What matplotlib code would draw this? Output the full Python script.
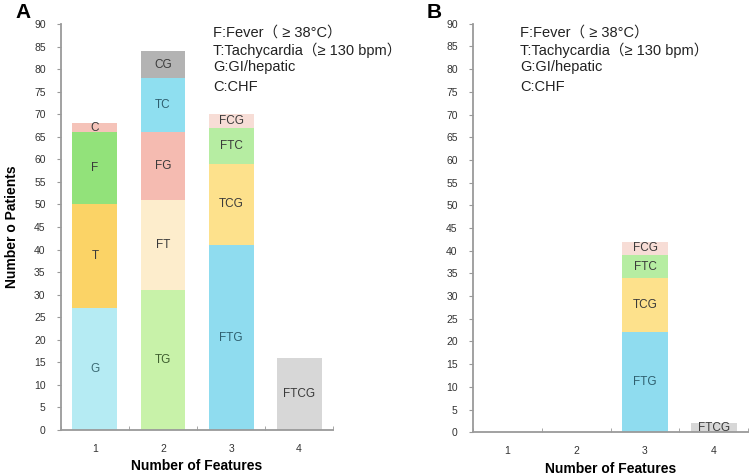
import matplotlib.pyplot as plt

plt.rcParams['font.family'] = ['Liberation Sans', 'Noto Sans CJK SC', 'DejaVu Sans']

# panel A: segments per bar (bottom to top)
cats = [1, 2, 3, 4]
a_labels = [['G', 'T', 'F', 'C'],
            ['TG', 'FT', 'FG', 'TC', 'CG'],
            ['FTG', 'TCG', 'FTC', 'FCG'],
            ['FTCG']]
a_values = [[27, 23, 16, 2],
            [31, 20, 15, 12, 6],
            [41, 18, 8, 3],
            [16]]

# panel B: only 3 and 4 features
b_labels = [[], [], ['FTG', 'TCG', 'FTC', 'FCG'], ['FTCG']]
b_values = [[], [], [22, 12, 5, 3], [2]]

seg_colors = {
    'G': '#b5ebf3', 'T': '#fbd366', 'F': '#92e27a', 'C': '#f5c3b9',
    'TG': '#c8f2a9', 'FT': '#fdedcc', 'FG': '#f5bbb1', 'TC': '#8fdff0', 'CG': '#b3b3b3',
    'FTG': '#8fdcef', 'TCG': '#fde18c', 'FTC': '#b6eda2', 'FCG': '#f7ddd6',
    'FTCG': '#d7d7d7',
}
text_colors = {'G': '#3b6b74', 'TG': '#3f5f2f', 'FTG': '#2f5f6f', 'TC': '#2f5f6f'}

legend_lines = ['F:Fever（ ≥ 38°C）', 'T:Tachycardia（≥ 130 bpm）',
                'G:GI/hepatic', 'C:CHF']
legend_y = [33, 50, 67, 87]

fig = plt.figure(figsize=(7.52, 4.76), dpi=100)
axA = fig.add_axes([0.081, 0.0966, 0.362, 0.853])
axB = fig.add_axes([0.629, 0.092, 0.366, 0.858])


def draw_panel(ax, labels, values):
    for x, labs, vals in zip(cats, labels, values):
        bottom = 0
        for lab, v in zip(labs, vals):
            ax.bar(x, v, bottom=bottom, width=0.66, color=seg_colors[lab], linewidth=0)
            ypos = bottom + v / 2
            if lab == 'FTCG' and v < 5:
                ypos = 0.9
            ax.text(x, ypos, lab, ha='center', va='center', fontsize=8.5,
                    color=text_colors.get(lab, '#3a3a3a'))
            bottom += v
    ax.set_xlim(0.5, 4.5)
    ax.set_ylim(0, 90)
    ax.set_yticks(range(0, 91, 5))
    ax.set_xticks(cats)
    ax.set_xticks([0.5, 1.5, 2.5, 3.5, 4.5], minor=True)
    ax.tick_params(axis='x', which='major', length=0, pad=10, labelsize=7.5, colors='#333333')
    ax.tick_params(axis='x', which='minor', length=3, direction='in', color='#999999')
    ax.tick_params(axis='y', length=3, labelsize=7.5, pad=8, colors='#999999', labelcolor='#333333')
    for s in ['top', 'right']:
        ax.spines[s].set_visible(False)
    for s in ['left', 'bottom']:
        ax.spines[s].set_color('#9a9a9a')
        ax.spines[s].set_linewidth(1.3)
    ax.set_xlabel('Number of Features', fontsize=10, fontweight='bold', labelpad=4)


draw_panel(axA, a_labels, a_values)
draw_panel(axB, b_labels, b_values)
axA.set_ylabel('Number o Patients', fontsize=10, fontweight='bold')
axA.yaxis.set_label_coords(-(61 - 19) / 272, 0.5)

for x0 in [213 / 752, 520 / 752]:
    for line, ly in zip(legend_lines, legend_y):
        fig.text(x0, 1 - ly / 476, line, fontsize=10.5, va='center', ha='left', color='#222222')

fig.text(23 / 752, 1 - 13 / 476, 'A', fontsize=15, fontweight='bold', va='center', ha='center')
fig.text(434 / 752, 1 - 13 / 476, 'B', fontsize=15, fontweight='bold', va='center', ha='center')

fig.savefig('out.png', dpi=100)
